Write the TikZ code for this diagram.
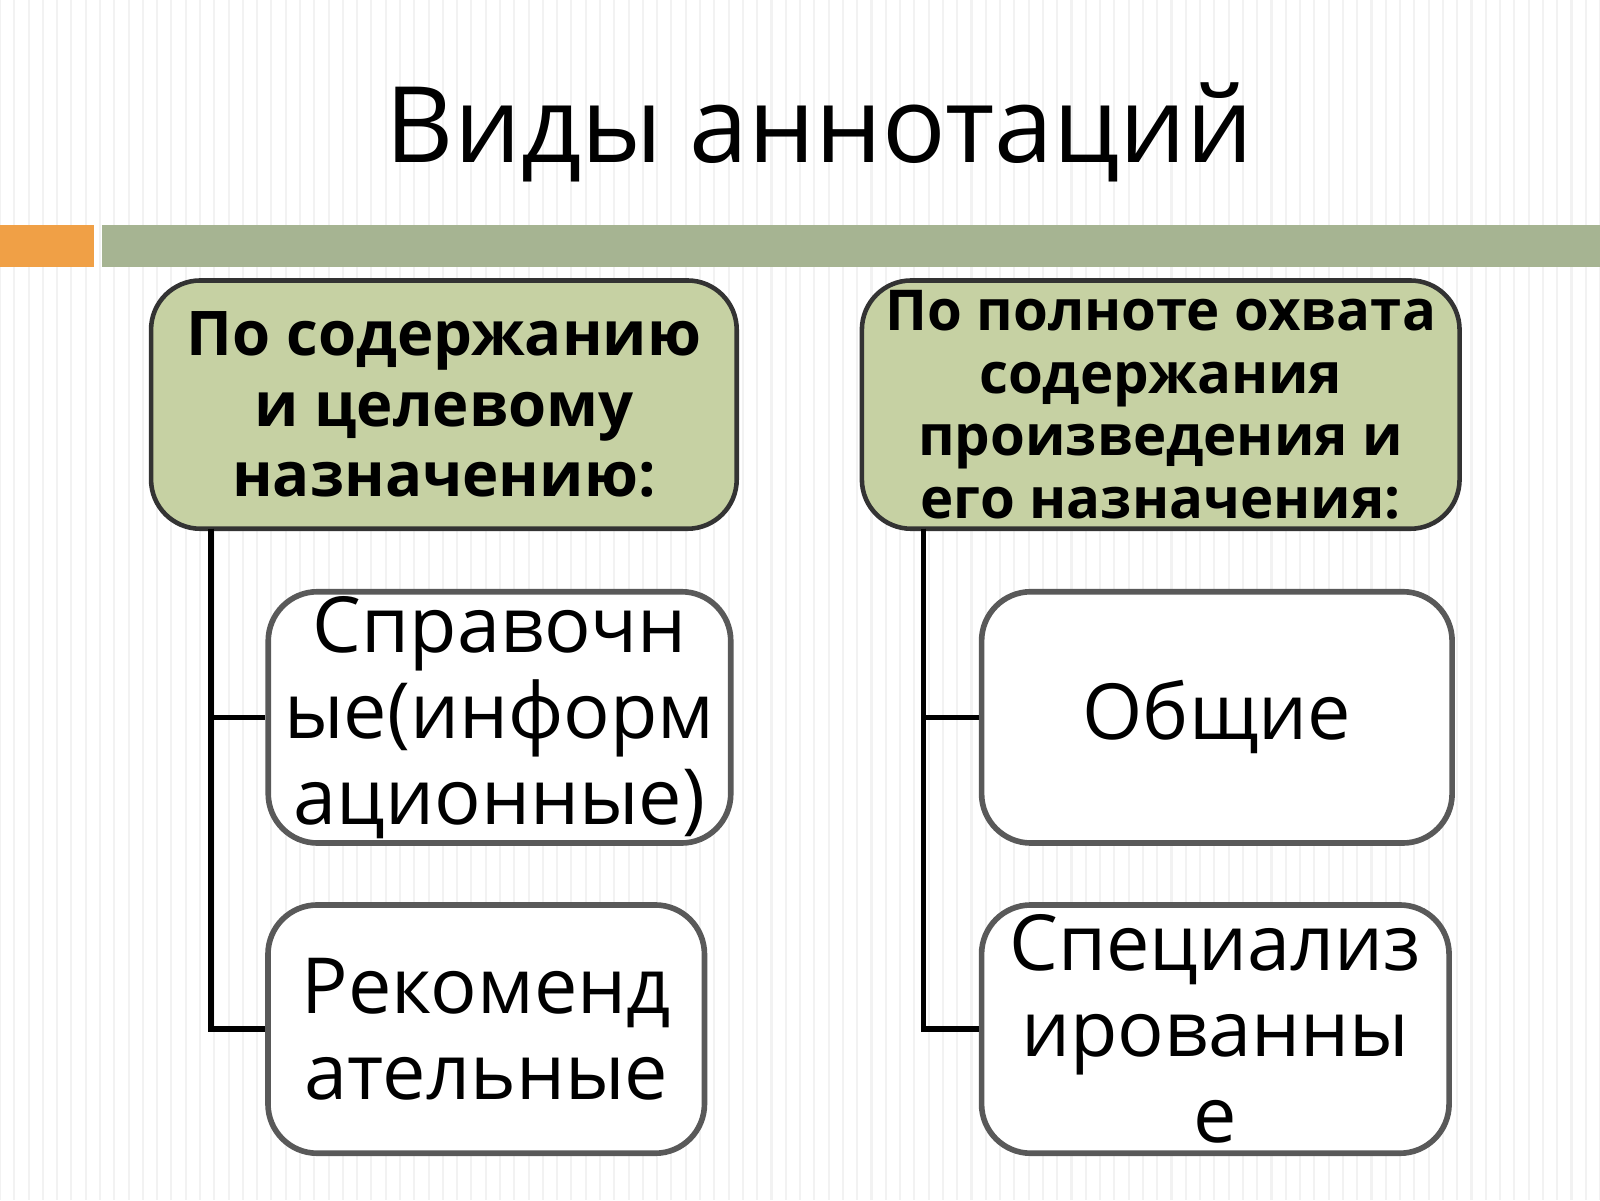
\documentclass[tikz,border=0pt]{standalone}
\usepackage{fontspec}
\setmainfont{Open Sans}
\begin{document}
\begin{tikzpicture}[x=0.0102cm,y=-0.0102cm,
  hdr/.style={draw=black!80,line width=1.3pt,rounded corners=14pt,fill=hfill,align=center,inner sep=0pt,font=\bfseries},
  box/.style={draw=black!65,line width=1.6pt,rounded corners=14pt,fill=white,align=center,inner sep=0pt,font=\fontsize{22}{24.5}\selectfont},
  conn/.style={line width=1.6pt,black}]
\definecolor{hfill}{RGB}{198,209,163}
\definecolor{barg}{RGB}{166,180,146}
\definecolor{baro}{RGB}{240,160,70}
\useasboundingbox (0,0) rectangle (1568,1176);
\fill[white] (0,0) rectangle (1568,1176);
\foreach \i in {0,14,...,1568} \draw[black!5,line width=0.6pt] (\i,0) -- (\i,1176);
\node[font=\fontsize{30}{33}\selectfont] (title) at (803,130) {Виды аннотаций};
\fill[baro] (0,220) rectangle (92,262);
\fill[barg] (100,220) rectangle (1568,262);
\node[hdr,minimum width=5.85cm,minimum height=2.48cm,font=\fontsize{17.5}{20}\selectfont\bfseries] (h1) at (435,396.5) {По содержанию\\и целевому\\назначению:};
\node[hdr,minimum width=5.97cm,minimum height=2.48cm,font=\fontsize{16}{17.8}\selectfont\bfseries] (h2) at (1137.5,396.5) {По полноте охвата\\содержания\\произведения и\\его назначения:};
\node[box,minimum width=4.62cm,minimum height=2.51cm] (c1) at (489.5,703) {Справочн\\ые(информ\\ационные)};
\node[box,minimum width=4.36cm,minimum height=2.48cm] (c2) at (476.5,1008.5) {Рекоменд\\ательные};
\node[box,minimum width=4.70cm,minimum height=2.51cm] (c3) at (1192.5,703) {Общие};
\node[box,minimum width=4.67cm,minimum height=2.48cm] (c4) at (1191,1008.5) {Специализ\\ированны\\е};
\coordinate (lt) at (207,518);
\coordinate (rt) at (905,518);
\draw[conn] (lt) |- (c1.west);
\draw[conn] (lt) |- (c2.west);
\draw[conn] (rt) |- (c3.west);
\draw[conn] (rt) |- (c4.west);
\end{tikzpicture}
\end{document}
